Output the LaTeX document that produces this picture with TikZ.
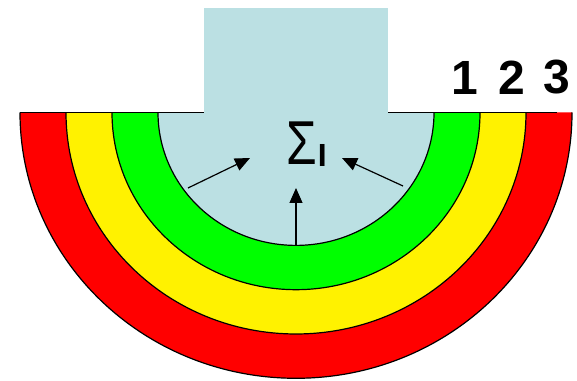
\documentclass[tikz,border=0pt]{standalone}
\usepackage{fontspec}
\setmainfont{Liberation Sans}
\usepackage{tikz}
\usetikzlibrary{positioning, arrows.meta, calc}

\definecolor{coreblue}{RGB}{187,224,227}

\begin{document}
\begin{tikzpicture}[
    x=1pt, y=1pt,
    >={Triangle[length=15pt, width=13pt]},
    band edge/.style={
        draw=black,
        line width=1.2pt,
    },
    pointer/.style={
        ->,
        line width=1.2pt,
    },
    level label/.style={
        font=\fontsize{48}{48}\selectfont\bfseries,
        inner sep=0pt,
    },
]
\useasboundingbox (0,0) rectangle (577,380);

% --- Centre of the half rings ---
\coordinate (c) at (296,267.5);

% --- Half rings, outer to inner ---
\foreach \r/\col in {276/red, 230/yellow, 184/green, 138/coreblue} {
    \fill[\col] ([xshift=-\r pt]c)
        arc[start angle=180, end angle=360, x radius=\r, y radius=0.963*\r] -- cycle;
    \draw[band edge] ([xshift=-\r pt]c)
        arc[start angle=180, end angle=360, x radius=\r, y radius=0.963*\r];
}

% --- Top edge ---
\draw[line width=1.6pt] ([xshift=-276pt]c) -- ([xshift=261pt]c);

% --- Core block on top ---
\fill[coreblue] (204,266.4) rectangle (388,372);

% --- Sum symbol ---
\node[inner sep=0pt, anchor=base west] (sig) at (286,215) {%
    \fontsize{62}{62}\selectfont\scalebox{0.8}[1]{Σ}%
    \hspace{1pt}\raisebox{-2pt}{\fontsize{32}{32}\selectfont\bfseries I}};

% --- Inward arrows ---
\coordinate (lt) at (188,192);
\coordinate (lh) at (250,222);
\coordinate (mt) at (296,134);
\coordinate (mh) at (296,192);
\coordinate (rt) at (403,194);
\coordinate (rh) at (342,222);
\draw[pointer] (lt) -- (lh);
\draw[pointer] (mt) -- (mh);
\draw[pointer] (rt) -- (rh);

% --- Level numbers ---
\foreach \n/\x in {1/465, 2/512, 3/557} {
    \node[level label] (n\n) at (\x,302.5) {\n};
}

\end{tikzpicture}
\end{document}
